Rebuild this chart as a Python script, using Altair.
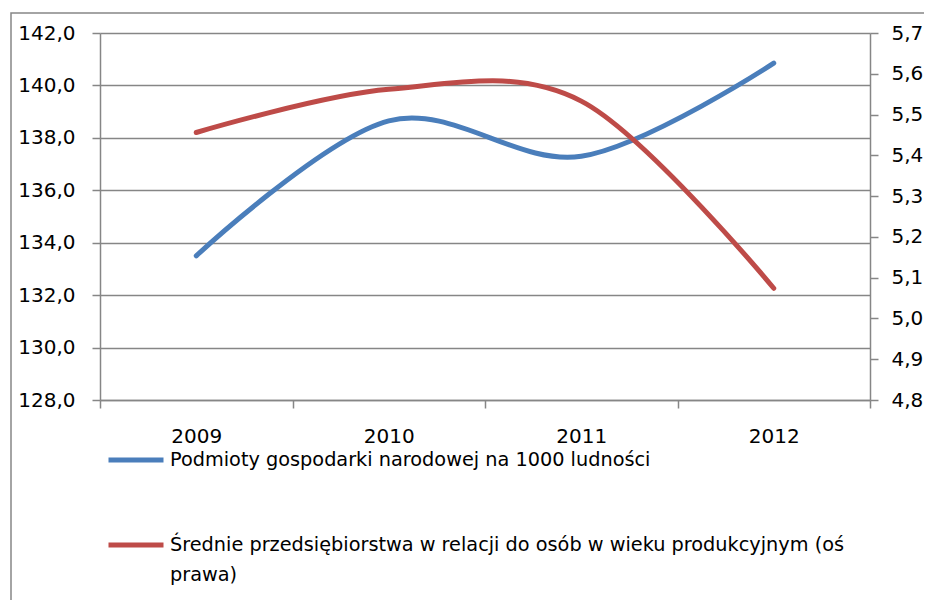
import altair as alt
import pandas as pd

years = ["2009", "2010", "2011", "2012"]
podmioty = [133.5, 138.65, 137.3, 140.85]
srednie = [5.456, 5.562, 5.533, 5.074]

name_a = "Podmioty gospodarki narodowej na 1000 ludności"
name_b = "Średnie przedsiębiorstwa w relacji do osób w wieku produkcyjnym (oś prawa)"
name_b_lines = ["Średnie przedsiębiorstwa w relacji do osób w wieku produkcyjnym (oś", "prawa)"]

left_ticks = [128, 130, 132, 134, 136, 138, 140, 142]
right_ticks = [4.8, 4.9, 5.0, 5.1, 5.2, 5.3, 5.4, 5.5, 5.6, 5.7]

df = pd.DataFrame({"year": years, "podmioty": podmioty, "srednie": srednie})

FONT = "DejaVu Sans"
GRAY = "#868686"
BLUE = "#4A7EBB"
RED = "#BE4B48"

x_enc = alt.X(
    "year:N",
    title=None,
    scale=alt.Scale(paddingInner=0, paddingOuter=0),
    axis=alt.Axis(
        labelAngle=0, tickBand="extent", grid=False, domainColor=GRAY, domainWidth=1.5,
        tickColor=GRAY, tickWidth=1.5, tickSize=8, labelPadding=18,
        labelFont=FONT, labelFontSize=20, labelColor="black",
    ),
)

color_enc = alt.Color(
    "series:N",
    scale=alt.Scale(domain=[name_a, name_b], range=[BLUE, RED]),
    legend=alt.Legend(
        title=None, orient="none", legendX=6, legendY=397, direction="vertical",
        symbolType="stroke", symbolSize=3025, symbolStrokeWidth=5, padding=0,
        labelFont=FONT, labelFontSize=19.3, labelColor="black", labelLimit=800,
        labelOffset=4, rowPadding=44,
        labelExpr=f"datum.label == '{name_b}' ? {name_b_lines!r} : datum.label",
    ),
)

line_a = alt.Chart(df).transform_calculate(series=f"'{name_a}'").mark_line(
    interpolate="cardinal", strokeWidth=5, strokeCap="round"
).encode(
    x=x_enc,
    y=alt.Y(
        "podmioty:Q", title=None,
        scale=alt.Scale(domain=[128, 142], nice=False, zero=False),
        axis=alt.Axis(
            orient="left", values=left_ticks, format=".1f", labelExpr="replace(datum.label, '.', ',')",
            grid=True, gridColor=GRAY, gridWidth=1.5, domainColor=GRAY, domainWidth=1.5,
            tickColor=GRAY, tickWidth=1.5, tickSize=8, labelPadding=17,
            labelFont=FONT, labelFontSize=20, labelColor="black",
        ),
    ),
    color=color_enc,
)

line_b = alt.Chart(df).transform_calculate(series=f"'{name_b}'").mark_line(
    interpolate="cardinal", strokeWidth=5, strokeCap="round"
).encode(
    x=x_enc,
    y=alt.Y(
        "srednie:Q", title=None,
        scale=alt.Scale(domain=[4.8, 5.7], nice=False, zero=False),
        axis=alt.Axis(
            orient="right", values=right_ticks, format=".1f", labelExpr="replace(datum.label, '.', ',')",
            grid=False, domainColor=GRAY, domainWidth=1.5,
            tickColor=GRAY, tickWidth=1.5, tickSize=8, labelPadding=13,
            labelFont=FONT, labelFontSize=20, labelColor="black",
        ),
    ),
    color=color_enc,
)

frame = alt.Chart(pd.DataFrame({"f": [0]})).mark_rect(
    fill=None, stroke=GRAY, strokeWidth=1.5
).encode(
    x=alt.value(-89), x2=alt.value(1000), y=alt.value(-20), y2=alt.value(800)
)

chart = alt.layer(frame, line_a, line_b).resolve_scale(y="independent").properties(
    width=770, height=367,
    autosize=alt.AutoSizeParams(type="none"),
    padding={"left": 92, "top": 25, "right": 54, "bottom": 200},
).configure(style={"guide-label": {"lineHeight": 30}}).configure_view(stroke=None)

chart.save("out.html", embed_options={"renderer": "svg", "actions": False})
